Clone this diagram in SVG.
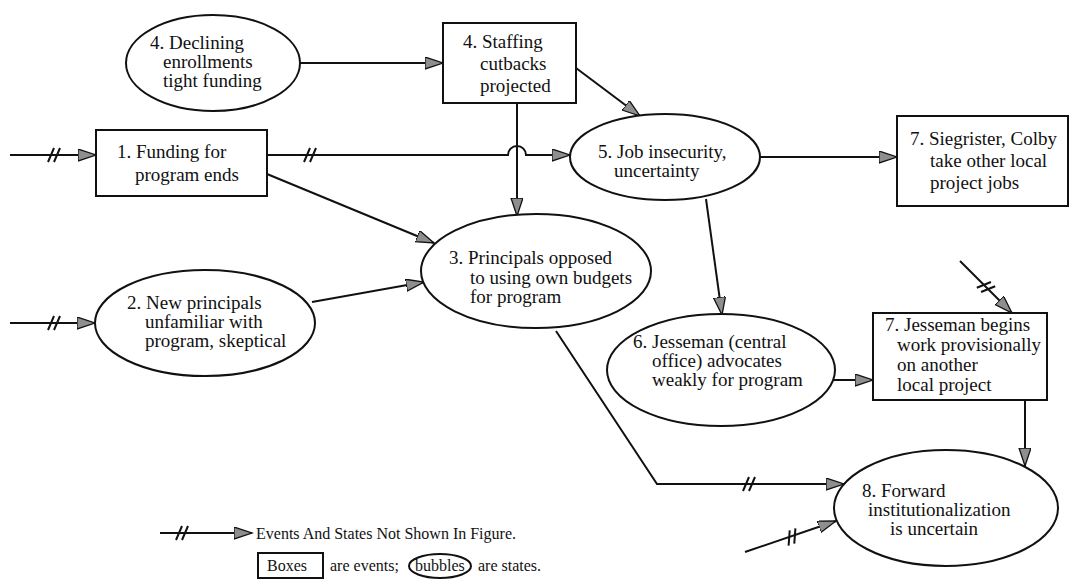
<svg xmlns="http://www.w3.org/2000/svg" xmlns:xlink="http://www.w3.org/1999/xlink" width="1086" height="586" viewBox="0 0 1086 586">
  <style>
    .node { fill: #ffffff; stroke: #111111; stroke-width: 2; }
    .lbl { font-family: 'Liberation Serif', 'DejaVu Serif', serif; font-size: 19px; fill: #111111; }
    .leg { font-family: 'Liberation Serif', 'DejaVu Serif', serif; font-size: 16px; fill: #111111; }
    .wire { fill: none; stroke: #111111; stroke-width: 2; }
    .brk { fill: none; stroke: #111111; stroke-width: 2; }
  </style>
  <defs>
    <marker id="arr" markerUnits="userSpaceOnUse" markerWidth="20" markerHeight="14" refX="18" refY="6" orient="auto">
      <path d="M0,0 L18,6 L0,12 Z" fill="#8e8e8e" stroke="#111111" stroke-width="1.3"/>
    </marker>
    <!-- "//" break mark: events and states not shown -->
    <path id="brk" d="M-6,7 L0,-7 M0,7 L6,-7"/>
  </defs>

  <rect width="1086" height="586" fill="#ffffff"/>

  <!-- connectors -->
  <g id="connectors" class="wire">
    <path d="M10,155 H96" marker-end="url(#arr)"/>
    <path d="M267,155 H508 A9,9 0 0 1 526,155 H570" marker-end="url(#arr)"/>
    <path d="M300,63 H443" marker-end="url(#arr)"/>
    <path d="M576,68 L640,116" marker-end="url(#arr)"/>
    <path d="M517,103 V216" marker-end="url(#arr)"/>
    <path d="M760,157 H897" marker-end="url(#arr)"/>
    <path d="M267,174 L434,243" marker-end="url(#arr)"/>
    <path d="M10,323 H95" marker-end="url(#arr)"/>
    <path d="M312,302 L424,282" marker-end="url(#arr)"/>
    <path d="M706,199 L722,315" marker-end="url(#arr)"/>
    <path d="M829,380 H873" marker-end="url(#arr)"/>
    <path d="M960,261 L1012,313" marker-end="url(#arr)"/>
    <path d="M1025,400 V466" marker-end="url(#arr)"/>
    <path d="M556,331 L657,484 H844" marker-end="url(#arr)"/>
    <path d="M745,552 L836,521" marker-end="url(#arr)"/>
    <g class="brk">
      <use xlink:href="#brk" transform="translate(54,155)"/>
      <use xlink:href="#brk" transform="translate(310,155)"/>
      <use xlink:href="#brk" transform="translate(54,323)"/>
      <use xlink:href="#brk" transform="translate(749,484)"/>
      <use xlink:href="#brk" transform="translate(792,537) rotate(-19)"/>
      <use xlink:href="#brk" transform="translate(986,287) rotate(45)"/>
    </g>
  </g>

  <g id="n4a">
    <ellipse class="node" cx="213" cy="63" rx="87" ry="48"/>
    <text class="lbl"><tspan x="150" y="49">4. Declining</tspan><tspan x="163" y="68">enrollments</tspan><tspan x="163" y="87">tight funding</tspan></text>
  </g>
  <g id="n4b">
    <rect class="node" x="443" y="23" width="133" height="80"/>
    <text class="lbl"><tspan x="463" y="48">4. Staffing</tspan><tspan x="480" y="70">cutbacks</tspan><tspan x="480" y="92">projected</tspan></text>
  </g>
  <g id="n1">
    <rect class="node" x="96" y="130" width="171" height="66"/>
    <text class="lbl"><tspan x="117" y="158">1. Funding for</tspan><tspan x="135" y="181">program ends</tspan></text>
  </g>
  <g id="n5">
    <ellipse class="node" cx="665" cy="157" rx="95" ry="43"/>
    <text class="lbl"><tspan x="598" y="158">5. Job insecurity,</tspan><tspan x="614" y="177">uncertainty</tspan></text>
  </g>
  <g id="n7a">
    <rect class="node" x="897" y="116" width="171" height="90"/>
    <text class="lbl"><tspan x="910" y="145">7. Siegrister, Colby</tspan><tspan x="930" y="167">take other local</tspan><tspan x="930" y="189">project jobs</tspan></text>
  </g>
  <g id="n3">
    <ellipse class="node" cx="536" cy="271" rx="115" ry="57"/>
    <text class="lbl"><tspan x="449" y="264">3. Principals opposed</tspan><tspan x="470" y="284">to using own budgets</tspan><tspan x="470" y="303">for program</tspan></text>
  </g>
  <g id="n2">
    <ellipse class="node" cx="205" cy="323" rx="110" ry="53"/>
    <text class="lbl"><tspan x="127" y="309">2. New principals</tspan><tspan x="145" y="328">unfamiliar with</tspan><tspan x="145" y="347">program, skeptical</tspan></text>
  </g>
  <g id="n6">
    <ellipse class="node" cx="721" cy="370" rx="114" ry="56"/>
    <text class="lbl"><tspan x="633" y="348">6. Jesseman (central</tspan><tspan x="652" y="367">office) advocates</tspan><tspan x="652" y="386">weakly for program</tspan></text>
  </g>
  <g id="n7b">
    <rect class="node" x="873" y="313" width="174" height="87"/>
    <text class="lbl"><tspan x="885" y="331">7. Jesseman begins</tspan><tspan x="897" y="351">work provisionally</tspan><tspan x="897" y="371">on another</tspan><tspan x="897" y="391">local project</tspan></text>
  </g>
  <g id="n8">
    <ellipse class="node" cx="946" cy="508" rx="112" ry="58"/>
    <text class="lbl"><tspan x="862" y="497">8. Forward</tspan><tspan x="868" y="516">institutionalization</tspan><tspan x="890" y="535">is uncertain</tspan></text>
  </g>

  <!-- key -->
  <g id="legend">
    <path class="wire" d="M160,533 H252" marker-end="url(#arr)"/>
    <use class="brk" xlink:href="#brk" transform="translate(182,533)"/>
    <text class="leg" x="256" y="539">Events And States Not Shown In Figure.</text>
    <rect class="node" x="258" y="553" width="65" height="25" stroke-width="1.5"/>
    <text class="leg" x="267" y="571">Boxes</text>
    <text class="leg" x="330" y="571">are events;</text>
    <ellipse class="node" cx="440" cy="566" rx="31" ry="12" stroke-width="1.5"/>
    <text class="leg" x="415" y="571">bubbles</text>
    <text class="leg" x="478" y="571">are states.</text>
  </g>
</svg>
